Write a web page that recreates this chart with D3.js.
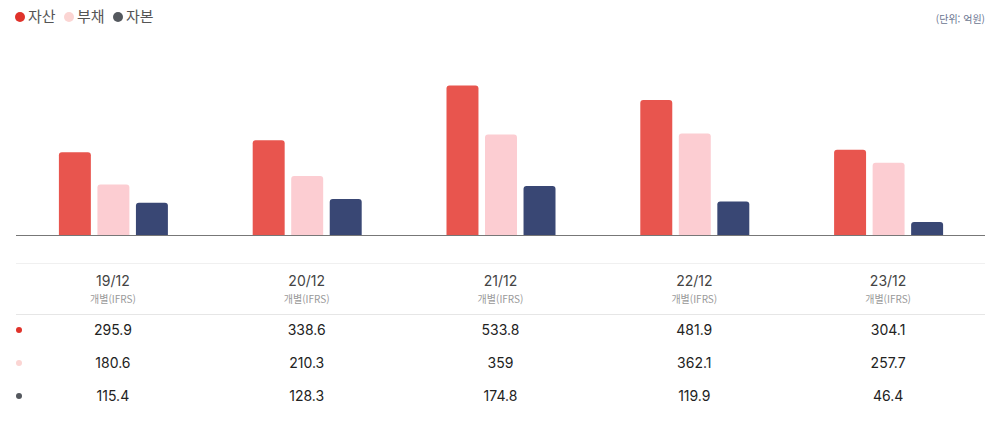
<!doctype html>
<html lang="ko">
<head>
<meta charset="utf-8">
<style>
  body { margin: 0; background: #fff; font-family: "Noto Sans CJK KR", "Noto Sans", sans-serif; }
  .num { font-family: Inter, "Noto Sans CJK KR", sans-serif; }
</style>
</head>
<body>
<svg id="chart" width="996" height="431"></svg>
<script src="https://d3js.org/d3.v7.min.js"></script>
<script>
// data
var periods = ["19/12", "20/12", "21/12", "22/12", "23/12"];
var subLabel = "개별(IFRS)";
var seriesNames = ["자산", "부채", "자본"];
var assets = [295.9, 338.6, 533.8, 481.9, 304.1];
var liabilities = [180.6, 210.3, 359, 362.1, 257.7];
var equity = [115.4, 128.3, 174.8, 119.9, 46.4];
var valueLabels = [
  ["295.9", "338.6", "533.8", "481.9", "304.1"],
  ["180.6", "210.3", "359", "362.1", "257.7"],
  ["115.4", "128.3", "174.8", "119.9", "46.4"]
];

var barColors = ["#e8554e", "#fccdd2", "#394774"];
var dotColors = ["#e0322a", "#fbd5d3", "#54585e"];
var series = [assets, liabilities, equity];

var svg = d3.select("#chart");
var left = 16, right = 985, base = 235;

var x = d3.scaleBand().domain(periods).range([left, right]);
var xs = d3.scaleBand().domain(d3.range(3)).range([-54, 55]).paddingInner(0.17);
var y = d3.scaleLinear().domain([0, 600]).range([base, 67]);

// legend
var lg = svg.append("g");
var lx = [20, 69, 118];
seriesNames.forEach(function(n, i){
  lg.append("circle").attr("cx", lx[i]).attr("cy", 17).attr("r", 5).attr("fill", dotColors[i]);
  lg.append("text").attr("x", lx[i] + 8).attr("y", 22).attr("font-size", 15)
    .attr("fill", "#555").text(n);
});
svg.append("text").attr("x", 985).attr("y", 23).attr("text-anchor", "end")
  .attr("font-size", 10).attr("fill", "#6a7490").text("(단위: 억원)");

// bars (rounded top corners)
function barPath(x0, w, y0, y1, r){
  return "M" + x0 + "," + y1 + "V" + (y0 + r) + "Q" + x0 + "," + y0 + " " + (x0 + r) + "," + y0 +
    "H" + (x0 + w - r) + "Q" + (x0 + w) + "," + y0 + " " + (x0 + w) + "," + (y0 + r) + "V" + y1 + "Z";
}
series.forEach(function(vals, si){
  svg.append("g").selectAll("path").data(vals).enter().append("path")
    .attr("fill", barColors[si])
    .attr("d", function(d, i){
      var cx = x(periods[i]) + x.bandwidth() / 2;
      return barPath(cx + xs(si), xs.bandwidth(), y(d), base, 3);
    });
});
svg.append("line").attr("x1", left).attr("x2", right).attr("y1", base + 0.5).attr("y2", base + 0.5)
  .attr("stroke", "#777").attr("stroke-width", 1.2);

// table
svg.append("line").attr("x1", left).attr("x2", right).attr("y1", 263.5).attr("y2", 263.5)
  .attr("stroke", "#f0f0f0");
svg.append("line").attr("x1", left).attr("x2", right).attr("y1", 314.5).attr("y2", 314.5)
  .attr("stroke", "#e6e6e6");

var head = svg.append("g").selectAll("g").data(periods).enter().append("g")
  .attr("transform", function(d){ return "translate(" + (x(d) + x.bandwidth() / 2) + ",0)"; });
head.append("text").attr("class", "num").attr("y", 286).attr("text-anchor", "middle").attr("font-size", 14)
  .attr("fill", "#444").text(function(d){ return d; });
head.append("text").attr("y", 303).attr("text-anchor", "middle").attr("font-size", 10)
  .attr("fill", "#999").text(subLabel);

var rowY = [330, 363, 396];
valueLabels.forEach(function(row, ri){
  svg.append("circle").attr("cx", 19).attr("cy", rowY[ri]).attr("r", 3).attr("fill", dotColors[ri]);
  svg.append("g").selectAll("text").data(row).enter().append("text")
    .attr("class", "num")
    .attr("x", function(d, i){ return x(periods[i]) + x.bandwidth() / 2; })
    .attr("y", rowY[ri] + 5).attr("text-anchor", "middle").attr("font-size", 14)
    .attr("fill", "#222").text(function(d){ return d; });
});
</script>
</body>
</html>
